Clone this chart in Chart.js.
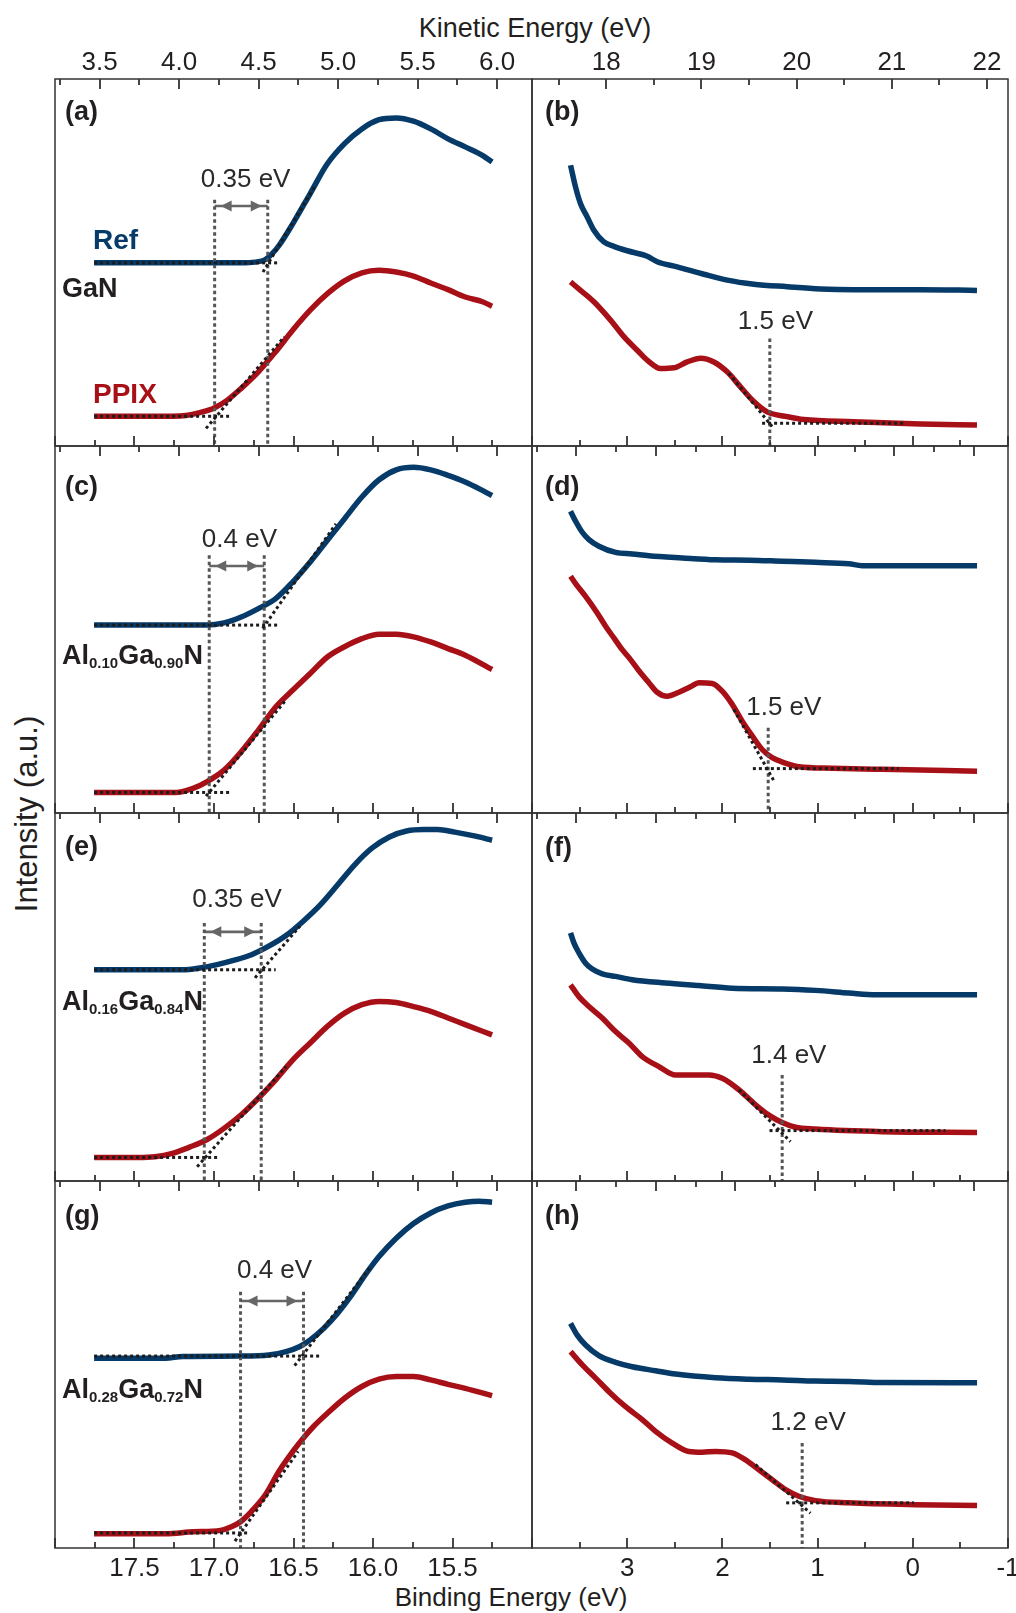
<!DOCTYPE html>
<html>
<head>
<meta charset="utf-8">
<script src="https://cdn.jsdelivr.net/npm/chart.js@4.4.1/dist/chart.umd.min.js"></script>
<style>
  body { margin: 0; width: 1016px; height: 1613px; background: #fff; position: relative; overflow: hidden;
         font-family: "Liberation Sans", Arial, Helvetica, sans-serif; color: #231f20; }
  canvas { position: absolute; }
  .lbl { position: absolute; white-space: nowrap; transform: translate(-50%, -50%); }
</style>
</head>
<body>
<div class="lbl" style="left:535px;top:28px;font-size:27px;">Kinetic Energy (eV)</div>
<div class="lbl" style="left:511px;top:1597px;font-size:26px;">Binding Energy (eV)</div>
<div class="lbl" style="left:27px;top:814px;font-size:31px;transform:translate(-50%,-50%) rotate(-90deg);">Intensity (a.u.)</div>
<script>
// He I photon energy, binding energy = HE_I - kinetic energy
var HE_I = 21.22;

// axes
var keRangeLeft = [3.22, 6.22];
var keRangeRight = [17.22, 22.22];
var keTicksLeft = [3.5, 4.0, 4.5, 5.0, 5.5, 6.0];
var keTicksRight = [18, 19, 20, 21, 22];
var beTicksLeft = [17.5, 17.0, 16.5, 16.0, 15.5];
var beTicksRight = [3, 2, 1, 0, -1];
// unlabelled top ticks of (d), (f), (h)
var altTicksRight = [0, 1, 2, 3, 4, 5];
var altRangeRight = [-0.5585, 5.4315];

// spectra: [kinetic energy (eV), intensity (a.u.)]
// (a)/(b) GaN
var refA = [[3.466,49.9],[4.391,49.9],[4.478,50.1],[4.543,50.8],[4.586,52.4],[4.630,54.7],[4.716,60.6],[4.825,68.8],[4.933,76.9],[5.041,82.4],[5.150,86.4],[5.258,88.9],[5.366,89.4],[5.475,88.5],[5.583,86.4],[5.692,83.7],[5.800,81.5],[5.908,79.2],[5.969,77.4]];
var ppixA = [[3.466,8.1],[3.958,8.1],[4.044,8.3],[4.131,9.1],[4.218,10.3],[4.304,12.5],[4.391,15.7],[4.499,20.2],[4.608,25.7],[4.716,31.6],[4.825,37.0],[4.933,41.5],[5.041,45.0],[5.150,47.2],[5.258,47.9],[5.366,47.4],[5.475,46.3],[5.583,44.4],[5.692,42.6],[5.800,40.6],[5.908,39.3],[5.969,38.1]];
var refB = [[17.625,76.5],[17.677,70.6],[17.730,66.0],[17.800,62.4],[17.870,58.8],[17.975,55.6],[18.080,54.4],[18.220,53.2],[18.430,51.7],[18.535,50.2],[18.745,48.8],[19.025,46.8],[19.270,45.2],[19.550,44.1],[19.900,43.4],[20.250,42.8],[20.600,42.6],[21.300,42.6],[21.894,42.4]];
var ppixB = [[17.625,44.7],[17.730,42.4],[17.870,39.3],[18.045,34.3],[18.185,29.8],[18.325,26.1],[18.430,23.4],[18.570,21.1],[18.710,21.3],[18.850,22.9],[18.990,23.9],[19.130,22.9],[19.270,20.2],[19.410,16.1],[19.550,12.1],[19.690,9.3],[19.900,8.0],[20.075,7.2],[20.600,6.6],[21.300,6.0],[21.894,5.7]];
// (c)/(d) Al0.10Ga0.90N
var refC = [[3.466,51.2],[4.174,51.2],[4.283,51.8],[4.391,53.4],[4.499,55.7],[4.608,58.4],[4.716,63.0],[4.825,68.4],[4.933,74.3],[5.041,80.2],[5.150,86.1],[5.258,90.8],[5.366,93.5],[5.475,94.2],[5.583,93.5],[5.692,92.0],[5.800,90.2],[5.908,87.9],[5.969,86.5]];
var ppixC = [[3.466,5.6],[3.979,5.6],[4.088,6.7],[4.174,8.5],[4.283,11.7],[4.391,16.7],[4.499,22.6],[4.608,28.9],[4.716,33.5],[4.825,38.0],[4.933,42.5],[5.041,45.3],[5.150,47.5],[5.258,48.7],[5.366,48.7],[5.475,48.0],[5.583,46.6],[5.692,44.8],[5.800,43.0],[5.969,39.1]];
var refD = [[17.625,82.2],[17.678,79.5],[17.748,76.5],[17.818,74.5],[17.923,72.7],[18.098,71.0],[18.273,70.6],[18.448,70.1],[18.798,69.5],[19.148,69.0],[19.498,68.9],[19.848,68.6],[20.198,68.3],[20.548,67.9],[20.688,67.4],[21.248,67.4],[21.895,67.4]];
var ppixD = [[17.625,64.5],[17.678,62.5],[17.783,59.0],[17.905,54.5],[17.993,50.9],[18.080,47.7],[18.168,44.5],[18.255,41.8],[18.360,38.2],[18.448,35.5],[18.535,32.9],[18.640,31.8],[18.763,32.9],[18.885,34.4],[18.973,35.5],[19.113,35.3],[19.218,33.2],[19.323,29.6],[19.428,25.0],[19.533,21.0],[19.638,17.3],[19.743,15.1],[19.848,13.9],[20.023,12.6],[20.373,12.2],[20.898,11.9],[21.895,11.4]];
// (e)/(f) Al0.16Ga0.84N
var refE = [[3.466,57.4],[4.023,57.4],[4.131,57.9],[4.239,58.8],[4.348,60.0],[4.456,61.5],[4.564,63.8],[4.673,66.7],[4.781,70.6],[4.890,75.1],[4.998,80.5],[5.106,86.0],[5.215,90.5],[5.323,93.5],[5.431,95.1],[5.540,95.5],[5.626,95.5],[5.735,94.8],[5.865,93.7],[5.969,92.6]];
var ppixE = [[3.466,6.4],[3.741,6.4],[3.849,6.6],[3.958,7.5],[4.066,9.2],[4.174,11.2],[4.283,14.3],[4.391,18.0],[4.499,22.5],[4.608,27.5],[4.716,32.9],[4.825,37.5],[4.933,42.0],[5.041,45.6],[5.150,47.9],[5.258,48.8],[5.366,48.5],[5.475,47.4],[5.583,46.1],[5.692,44.3],[5.800,42.5],[5.969,39.7]];
var refF = [[17.625,67.4],[17.660,64.7],[17.713,62.0],[17.783,59.2],[17.853,57.6],[17.958,56.3],[18.098,55.6],[18.273,54.7],[18.623,53.8],[18.973,53.1],[19.323,52.4],[19.848,52.2],[20.198,51.8],[20.548,51.1],[20.828,50.6],[21.895,50.6]];
var ppixF = [[17.625,53.3],[17.713,50.1],[17.818,47.4],[17.958,44.3],[18.098,40.6],[18.238,37.5],[18.378,33.8],[18.553,31.1],[18.728,28.8],[18.903,28.8],[19.078,28.8],[19.218,27.9],[19.393,24.8],[19.568,20.7],[19.708,17.9],[19.848,15.9],[19.988,14.6],[20.198,14.1],[20.898,13.4],[21.895,13.2]];
// (g)/(h) Al0.28Ga0.72N
var refG = [[3.466,51.7],[3.914,51.7],[4.023,52.2],[4.391,52.3],[4.564,52.6],[4.673,53.5],[4.760,54.9],[4.825,56.7],[4.911,59.9],[4.998,64.0],[5.085,68.9],[5.171,74.4],[5.258,79.4],[5.366,84.4],[5.475,88.4],[5.583,91.3],[5.692,93.2],[5.800,94.2],[5.887,94.5],[5.969,94.2]];
var ppixG = [[3.466,3.9],[3.914,3.9],[4.088,4.4],[4.261,4.8],[4.326,5.7],[4.391,7.3],[4.456,10.0],[4.543,14.5],[4.629,20.9],[4.716,26.3],[4.781,29.9],[4.846,33.1],[4.933,36.7],[5.041,40.8],[5.150,44.0],[5.258,46.0],[5.366,46.7],[5.475,46.7],[5.583,45.8],[5.692,44.6],[5.800,43.5],[5.969,41.5]];
var refH = [[17.625,61.2],[17.695,58.0],[17.783,55.3],[17.923,52.4],[18.098,50.6],[18.273,49.4],[18.518,48.3],[18.728,47.4],[19.148,46.4],[19.498,46.0],[19.848,45.8],[20.198,45.5],[20.548,45.4],[20.898,45.1],[21.895,45.0]];
var ppixH = [[17.625,53.5],[17.748,49.9],[17.888,46.3],[18.028,42.6],[18.203,38.5],[18.378,35.0],[18.518,31.8],[18.693,28.6],[18.868,26.3],[19.008,26.1],[19.148,26.3],[19.323,25.9],[19.463,24.0],[19.603,21.3],[19.743,18.6],[19.883,15.9],[20.023,14.1],[20.198,12.9],[20.548,12.3],[21.248,11.8],[21.895,11.6]];

// linear fits (baseline + tangent) used to read the cut-off / onset
var fitsA = [[[3.466,49.9],[4.625,49.9]], [[4.528,47.4],[4.857,71.0]], [[3.466,8.1],[4.315,8.1]], [[4.170,4.8],[4.662,29.8]]];
var fitsB = [[[19.637,6.2],[21.125,6.2]], [[19.287,19.8],[19.742,5.3]]];
var fitsC = [[[3.466,51.2],[4.630,51.2]], [[4.526,50.3],[4.987,78.8]], [[3.466,5.6],[4.326,5.6]], [[4.170,4.6],[4.673,30.8]]];
var fitsD = [[[19.540,12.1],[21.072,12.1]], [[19.340,28.2],[19.771,8.3]]];
var fitsE = [[[3.466,57.4],[4.608,57.4]], [[4.478,55.2],[4.760,69.2]], [[3.466,6.4],[4.250,6.4]], [[4.114,3.9],[4.673,31.1]]];
var fitsF = [[[19.715,13.7],[21.562,13.7]], [[19.393,24.8],[19.935,10.7]]];
var fitsG = [[[3.466,52.3],[4.900,52.3]], [[4.727,49.7],[5.204,76.6]], [[3.466,4.1],[4.445,4.1]], [[4.352,1.9],[4.749,26.3]]];
var fitsH = [[[19.890,12.3],[21.230,12.3]], [[19.568,22.7],[20.145,9.5]]];

// cut-off markers (kinetic energy), shift labels
var cutsA = [4.224, 4.558], cutsB = [19.718];
var cutsC = [4.190, 4.536], cutsD = [19.701];
var cutsE = [4.159, 4.517], cutsF = [19.848];
var cutsG = [4.387, 4.783], cutsH = [20.058];
var shiftLabels = ['0.35 eV', '1.5 eV', '0.4 eV', '1.5 eV', '0.35 eV', '1.4 eV', '0.4 eV', '1.2 eV'];
var samples = [['GaN'], ['Al','0.10','Ga','0.90','N'], ['Al','0.16','Ga','0.84','N'], ['Al','0.28','Ga','0.72','N']];

var FONT = '"Liberation Sans", Arial, Helvetica, sans-serif';
var INK = '#231f20', BLUE = '#063a68', RED = '#a81018';
var GUIDE = '#1c1c1c', DROP = '#555555', ARROW = '#666666', FRAME = '#333333';

var colX = [[55, 532], [532, 1008]];
var rowY = [[79, 446], [446, 813], [813, 1181], [1181, 1548]];

var panels = [
  {letter:'(a)', col:0, row:0, ref:refA, ppix:ppixA, fits:fitsA, cuts:cutsA, top:67.1, arrowY:65.4, note:[4.419,72.4], letterDy:34},
  {letter:'(b)', col:1, row:0, ref:refB, ppix:ppixB, fits:fitsB, cuts:cutsB, top:29.3, note:[19.777,33.8], letterDy:34},
  {letter:'(c)', col:0, row:1, ref:refC, ppix:ppixC, fits:fitsC, cuts:cutsC, top:70.2, arrowY:67.3, note:[4.380,74.3], letterDy:42},
  {letter:'(d)', col:1, row:1, ref:refD, ppix:ppixD, fits:fitsD, cuts:cutsD, top:23.2, note:[19.865,28.7], letterDy:42},
  {letter:'(e)', col:0, row:2, ref:refE, ppix:ppixE, fits:fitsE, cuts:cutsE, top:70.1, arrowY:67.7, note:[4.365,76.5], letterDy:35},
  {letter:'(f)', col:1, row:2, ref:refF, ppix:ppixF, fits:fitsF, cuts:cutsF, top:28.8, note:[19.918,34.0], letterDy:36},
  {letter:'(g)', col:0, row:3, ref:refG, ppix:ppixG, fits:fitsG, cuts:cutsG, top:69.8, arrowY:67.3, note:[4.601,75.5], letterDy:36},
  {letter:'(h)', col:1, row:3, ref:refH, ppix:ppixH, fits:fitsH, cuts:cutsH, top:28.6, note:[20.121,34.2], letterDy:36}
];
var sampleDy = [211, 211, 190, 210];

function pts(list) {
  return list.map(function (p) { return {x: p[0], y: p[1]}; });
}

// inward tick marks: majors at the given values, minors half way between
function tickMarks(ctx, scale, majors, y0, dir) {
  if (!scale) return;
  var step = Math.abs(majors[1] - majors[0]);
  var lo = Math.min(scale.min, scale.max) - 1e-6, hi = Math.max(scale.min, scale.max) + 1e-6;
  ctx.save();
  ctx.setLineDash([]);
  ctx.strokeStyle = FRAME;
  ctx.lineWidth = 1.8;
  ctx.beginPath();
  for (var i = -40; i <= 40; i++) {
    var v = majors[0] + i * step / 2;
    if (v < lo || v > hi) continue;
    var x = Math.round(scale.getPixelForValue(v));
    var len = (Math.abs(i) % 2 === 0) ? 10 : 6;
    ctx.moveTo(x, y0);
    ctx.lineTo(x, y0 + dir * len);
  }
  ctx.stroke();
  ctx.restore();
}

function drawFormula(ctx, parts, x, y) {
  parts.forEach(function (s, i) {
    var sub = i % 2 === 1;
    ctx.font = 'bold ' + (sub ? 15 : 27) + 'px ' + FONT;
    ctx.fillText(s, x, sub ? y + 7 : y);
    x += ctx.measureText(s).width;
  });
}

function panelPlugin(p, idx) {
  var left = p.col === 0;
  return {
    id: 'panel' + idx,
    afterDraw: function (chart) {
      var ctx = chart.ctx, a = chart.chartArea;
      var ke = chart.scales.ke, ys = chart.scales.y, be = chart.scales.be, alt = chart.scales.alt;
      ctx.save();
      // arrow heads of the shift marker
      if (p.arrowY !== undefined) {
        var ay = ys.getPixelForValue(p.arrowY);
        var x1 = ke.getPixelForValue(p.cuts[0]) + 6, x2 = ke.getPixelForValue(p.cuts[1]) - 6;
        ctx.fillStyle = ARROW;
        ctx.beginPath();
        ctx.moveTo(x1, ay); ctx.lineTo(x1 + 11, ay - 5.5); ctx.lineTo(x1 + 11, ay + 5.5); ctx.closePath();
        ctx.moveTo(x2, ay); ctx.lineTo(x2 - 11, ay - 5.5); ctx.lineTo(x2 - 11, ay + 5.5); ctx.closePath();
        ctx.fill();
      }
      // frame and inward ticks
      ctx.setLineDash([]);
      ctx.strokeStyle = FRAME;
      ctx.lineWidth = 1.5;
      ctx.strokeRect(a.left, a.top, a.right - a.left, a.bottom - a.top);
      if (alt) tickMarks(ctx, alt, altTicksRight, a.top, 1);
      else tickMarks(ctx, ke, left ? keTicksLeft : keTicksRight, a.top, 1);
      tickMarks(ctx, be, left ? beTicksLeft : beTicksRight, a.bottom, -1);
      // texts
      ctx.textBaseline = 'middle';
      ctx.fillStyle = INK;
      ctx.textAlign = 'left';
      ctx.font = 'bold 27px ' + FONT;
      ctx.fillText(p.letter, a.left + (left ? 10 : 13), a.top + p.letterDy);
      if (left) drawFormula(ctx, samples[p.row], a.left + 7, a.top + sampleDy[p.row]);
      if (p.row === 0 && left) {
        ctx.font = 'bold 28px ' + FONT;
        ctx.fillStyle = BLUE;
        ctx.fillText('Ref', a.left + 38, a.top + 162);
        ctx.fillStyle = RED;
        ctx.fillText('PPIX', a.left + 38, a.top + 316);
      }
      ctx.fillStyle = '#2a2a2a';
      ctx.textAlign = 'center';
      ctx.font = '26px ' + FONT;
      ctx.fillText(shiftLabels[idx], ke.getPixelForValue(p.note[0]), ys.getPixelForValue(p.note[1]));
      ctx.restore();
    }
  };
}

panels.forEach(function (p, idx) {
  var left = p.col === 0;
  var cx = colX[p.col], ry = rowY[p.row];
  var M = 20, V = 12;
  var top = p.row === 0 ? 0 : ry[0] - V;
  var bottom = p.row === 3 ? 1613 : ry[1] + V;
  var padTop = p.row === 0 ? 0 : V, padBottom = p.row === 3 ? 0 : V;
  var topH = ry[0] - top - padTop;
  var botH = bottom - ry[1] - padBottom;

  var cv = document.createElement('canvas');
  cv.width = cx[1] - cx[0] + 2 * M;
  cv.height = bottom - top;
  cv.style.left = (cx[0] - M) + 'px';
  cv.style.top = top + 'px';
  document.body.appendChild(cv);

  var keR = left ? keRangeLeft : keRangeRight;
  var fmt = function (v) { return left ? v.toFixed(1) : String(v); };
  var tickFont = {family: FONT, size: 26};

  // dotted fits first so they sit on top of the spectra
  var ds = [];
  p.fits.forEach(function (seg) {
    ds.push({data: pts(seg), borderColor: GUIDE, borderWidth: 3, borderDash: [3, 3]});
  });
  p.cuts.forEach(function (c) {
    ds.push({data: pts([[c, p.top], [c, 0]]), borderColor: DROP, borderWidth: 3, borderDash: [3.5, 3]});
  });
  if (p.arrowY !== undefined) {
    ds.push({data: pts([[p.cuts[0], p.arrowY], [p.cuts[1], p.arrowY]]), borderColor: ARROW, borderWidth: 2.6});
  }
  ds.push({data: pts(p.ref), borderColor: BLUE, borderWidth: 5.5, cubicInterpolationMode: 'monotone'});
  ds.push({data: pts(p.ppix), borderColor: RED, borderWidth: 5.5, cubicInterpolationMode: 'monotone'});
  ds.forEach(function (d) { d.pointRadius = 0; d.fill = false; d.xAxisID = 'ke'; d.yAxisID = 'y'; });

  var scales = {
    ke: {
      type: 'linear', position: 'top', min: keR[0], max: keR[1],
      afterBuildTicks: function (s) { s.ticks = (left ? keTicksLeft : keTicksRight).map(function (v) { return {value: v}; }); },
      afterFit: function (s) { s.height = topH; },
      grid: {display: false, drawTicks: false}, border: {display: false},
      ticks: {display: p.row === 0, autoSkip: false, maxRotation: 0, minRotation: 0, padding: 1, color: INK, font: tickFont, callback: fmt}
    },
    be: {
      type: 'linear', position: 'bottom', reverse: true,
      min: +(HE_I - keR[1]).toFixed(3), max: +(HE_I - keR[0]).toFixed(3),
      afterBuildTicks: function (s) { s.ticks = (left ? beTicksLeft : beTicksRight).map(function (v) { return {value: v}; }); },
      afterFit: function (s) { s.height = botH; },
      grid: {display: false, drawTicks: false}, border: {display: false},
      ticks: {display: p.row === 3, autoSkip: false, maxRotation: 0, minRotation: 0, padding: 5, color: INK, font: tickFont, callback: fmt}
    },
    y: {display: false, min: 0, max: 100}
  };
  if (!left && p.row > 0) {
    scales.alt = {
      type: 'linear', display: false, position: 'top', min: altRangeRight[0], max: altRangeRight[1],
      afterBuildTicks: function (s) { s.ticks = altTicksRight.map(function (v) { return {value: v}; }); }
    };
  }

  new Chart(cv, {
    type: 'line',
    data: {datasets: ds},
    options: {
      responsive: false,
      animation: false,
      events: [],
      layout: {padding: {left: M, right: M, top: padTop, bottom: padBottom}},
      plugins: {legend: {display: false}, tooltip: {enabled: false}},
      scales: scales
    },
    plugins: [panelPlugin(p, idx)]
  });
});
</script>
</body>
</html>
